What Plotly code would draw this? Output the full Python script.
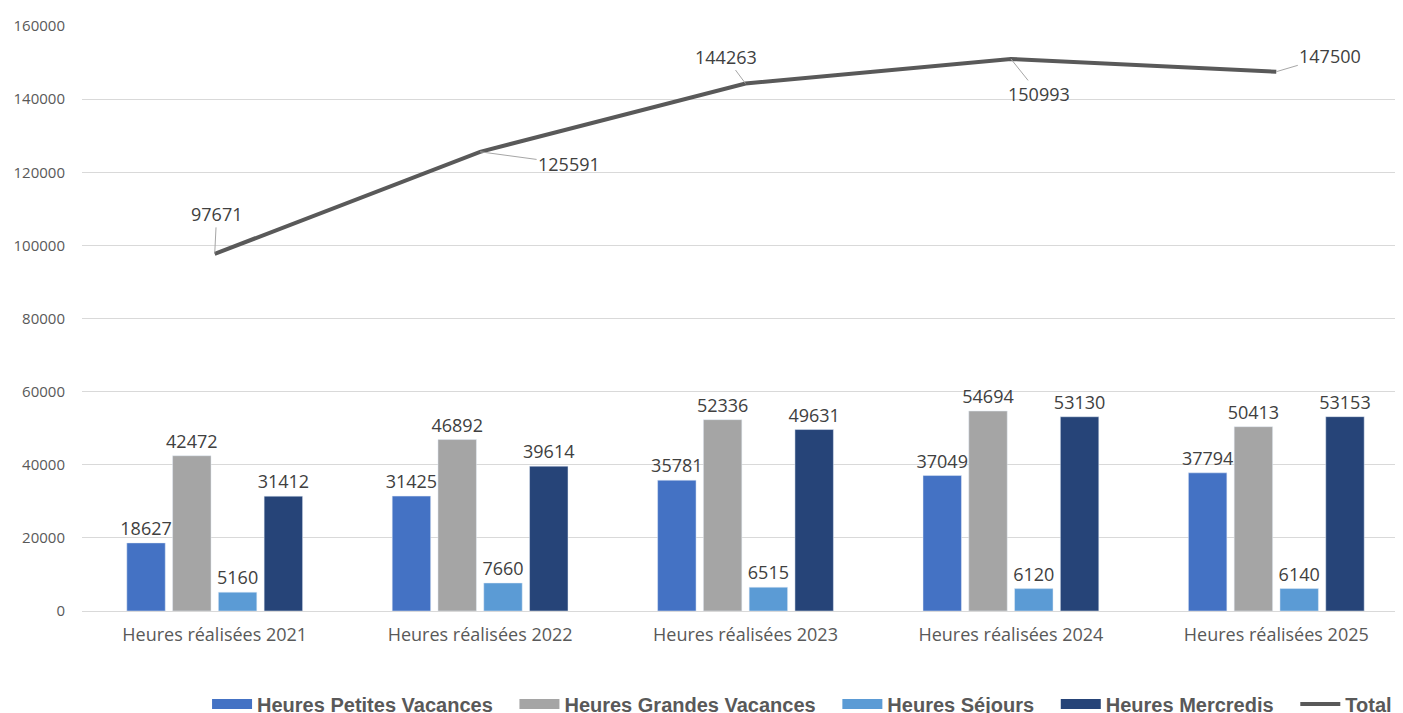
import plotly.graph_objects as go

categories = ["Heures réalisées 2021", "Heures réalisées 2022", "Heures réalisées 2023",
              "Heures réalisées 2024", "Heures réalisées 2025"]
petites = [18627, 31425, 35781, 37049, 37794]
grandes = [42472, 46892, 52336, 54694, 50413]
sejours = [5160, 7660, 6515, 6120, 6140]
mercredis = [31412, 39614, 49631, 53130, 53153]
total = [97671, 125591, 144263, 150993, 147500]
y_ticks = [0, 20000, 40000, 60000, 80000, 100000, 120000, 140000, 160000]

series = [
    ("Heures Petites Vacances", petites, "#4472C4"),
    ("Heures Grandes Vacances", grandes, "#A5A5A5"),
    ("Heures Séjours", sejours, "#5B9BD5"),
    ("Heures Mercredis", mercredis, "#264478"),
]

LBL = dict(family="Open Sans, DejaVu Sans, sans-serif", size=18, color="#404040")
PAD = "\u00a0" * 3

fig = go.Figure()
for name, vals, col in series:
    fig.add_trace(go.Bar(
        x=categories, y=vals, name=name, marker_color=col, showlegend=False,
        text=[str(v) for v in vals], textposition="outside", cliponaxis=False,
        textfont=LBL,
    ))

fig.add_trace(go.Scatter(
    x=categories, y=total, name="Total", mode="lines", showlegend=False,
    line=dict(color="#595959", width=4),
))

# legend proxies (wide rectangles like the reference)
for name, vals, col in series:
    fig.add_trace(go.Scatter(x=[None], y=[None], mode="lines", name=name + PAD,
                             line=dict(color=col, width=12)))
fig.add_trace(go.Scatter(x=[None], y=[None], mode="lines", name="Total",
                         line=dict(color="#595959", width=4)))

# label offsets for the total line (pixels)
offsets = [(2, -40), (89, 12), (-20, -27), (28, 35), (54, -16)]
for c, v, (ax, ay) in zip(categories, total, offsets):
    fig.add_annotation(
        x=c, y=v, text=str(v), showarrow=True, arrowhead=0, arrowwidth=1,
        arrowcolor="#A6A6A6", ax=ax, ay=ay, font=LBL,
    )

fig.update_layout(
    width=1403, height=721,
    paper_bgcolor="white", plot_bgcolor="white",
    margin=dict(l=74, r=2, t=18, b=118),
    barmode="group", bargap=0.31, bargroupgap=0.16,
    uniformtext=dict(minsize=18, mode="show"),
    showlegend=True,
    legend=dict(
        orientation="h", x=0.991, xanchor="right", y=-0.159, yanchor="middle",
        font=dict(family="Liberation Sans, Arial, sans-serif",
                  size=20, color="#595959", weight="bold"),
        itemwidth=40, tracegroupgap=0,
    ),
    xaxis=dict(
        showgrid=False, showline=False, ticks="", ticklabelstandoff=11,
        tickfont=dict(family="Open Sans, DejaVu Sans, sans-serif", size=18, color="#595959"),
    ),
    yaxis=dict(
        range=[0, 160000], tickvals=y_ticks, tickformat="d",
        showgrid=True, gridcolor="#D9D9D9", gridwidth=1, zeroline=True,
        zerolinecolor="#D9D9D9", zerolinewidth=1,
        tickfont=dict(family="Open Sans, DejaVu Sans, sans-serif", size=15, color="#595959"),
        ticklabelstandoff=16,
    ),
)

fig.write_html("out.html")
